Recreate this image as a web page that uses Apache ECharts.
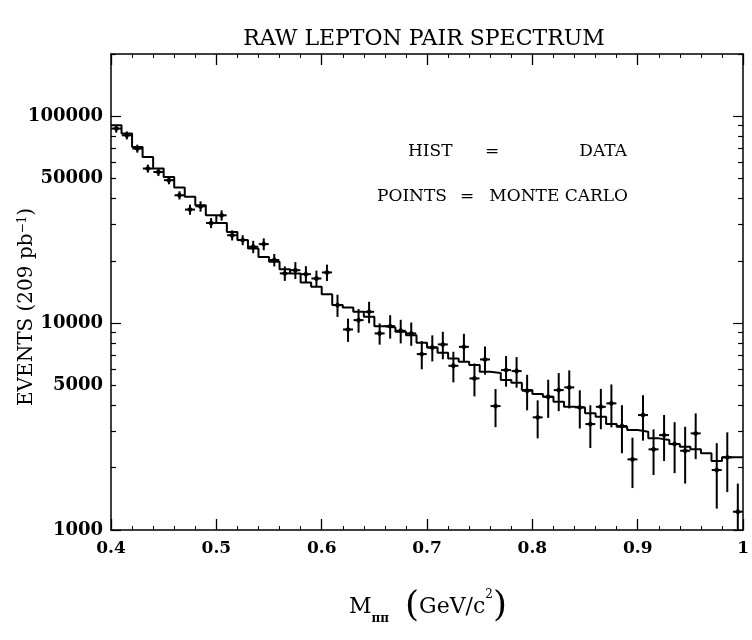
<!DOCTYPE html>
<html><head><meta charset="utf-8">
<script src="https://cdn.jsdelivr.net/npm/echarts@6/dist/echarts.min.js"></script>
<style>html,body{margin:0;padding:0;background:#fff}#c{width:752px;height:640px}</style>
</head><body><div id="c"></div>
<script>
// ---- data ----
const massCenters = [0.405,0.415,0.425,0.435,0.445,0.455,0.465,0.475,0.485,0.495,
 0.505,0.515,0.525,0.535,0.545,0.555,0.565,0.575,0.585,0.595,
 0.605,0.615,0.625,0.635,0.645,0.655,0.665,0.675,0.685,0.695,
 0.705,0.715,0.725,0.735,0.745,0.755,0.765,0.775,0.785,0.795,
 0.805,0.815,0.825,0.835,0.845,0.855,0.865,0.875,0.885,0.895,
 0.905,0.915,0.925,0.935,0.945,0.955,0.965,0.975,0.985,0.995];
const binHalfWidth = 0.005;
const dataHist = [90500,82500,71100,63600,55900,50900,45200,40800,37150,33250,
 30500,27600,25200,22950,20900,19800,18200,17400,15700,14980,
 13800,12220,11910,11340,10730,9670,9530,9080,8750,8030,
 7630,7190,6750,6500,6270,5820,5735,5305,5150,4745,
 4540,4405,4165,3940,3915,3663,3527,3251,3155,3042,
 2985,2773,2720,2603,2526,2454,2347,2154,2245,2245];
const mcValues = [87200,80900,69800,55900,53800,49100,41500,35400,36700,30500,
 33200,26600,25200,23400,24100,20200,17400,18030,17250,16440,
 17580,12220,9320,10340,11340,8920,9670,9180,8920,7085,
 7630,7890,6220,7680,5405,6675,3972,5930,5865,4709,
 3504,4405,4745,4891,3915,3251,3940,4094,3180,2195,
 3594,2454,2876,2603,2416,2931,null,1949,2245,1226];
const mcErrors = [3900,3600,3100,2500,2400,2200,1900,2000,2100,1700,
 1900,1500,1400,1600,1600,1400,1400,1700,1600,1500,
 1600,1500,1200,1350,1350,1050,1250,1200,1150,1100,
 1100,1200,1050,1200,980,1040,830,1000,990,920,
 730,920,990,1020,820,760,870,960,830,600,
 890,610,720,720,740,730,null,680,720,450];
const xMin = 0.4, xMax = 1.0, xInterval = 0.1;
const yMin = 1000, yMax = 200000;
const yMajorTicks = [1000,10000,100000];
const yMinorTicks = [2000,3000,4000,5000,6000,7000,8000,9000,
 20000,30000,40000,50000,60000,70000,80000,90000,200000];
const yTickLabels = [1000,5000,10000,50000,100000];
const titleText = 'RAW LEPTON PAIR SPECTRUM';

// ---- build ----
const histLine = massCenters.map((m,i)=>[m-binHalfWidth, dataHist[i]]);
histLine.push([massCenters[massCenters.length-1]+binHalfWidth, dataHist[dataHist.length-1]]);
const mcData = [];
massCenters.forEach((m,i)=>{ if(mcValues[i]!=null) mcData.push([m, mcValues[i], mcErrors[i]]); });

const FONT = 'DejaVu Serif';
const lblStyle = {color:'#000', fontFamily:FONT, fontWeight:'bold', fontSize:17};
function xAxisDef(pos, showLabel){
  return {type:'value', position:pos, min:xMin, max:xMax, interval:xInterval,
    axisLine:{show:true, lineStyle:{color:'#000', width:1.5}},
    axisTick:{show:true, inside:true, length:11, lineStyle:{color:'#000', width:1.3}},
    minorTick:{show:true, splitNumber:5, length:4, lineStyle:{color:'#000', width:1}},
    splitLine:{show:false}, minorSplitLine:{show:false},
    axisLabel:Object.assign({show:showLabel, margin:10,
      formatter:v=> (Math.abs(v-1)<1e-9 ? '1' : v.toFixed(1))}, lblStyle)};
}
function yAxisDef(pos, ticks, len, showLine, labels){
  return {type:'log', logBase:10, position:pos, min:yMin, max:yMax,
    axisLine:{show:showLine, lineStyle:{color:'#000', width:1.5}},
    axisTick:{show:true, inside:true, length:len, customValues:ticks, lineStyle:{color:'#000', width:1.2}},
    splitLine:{show:false},
    axisLabel: labels ? Object.assign({show:true, margin:8, customValues:labels,
      formatter:v=>String(Math.round(v))}, lblStyle, {fontSize:18}) : {show:false}};
}

const chart = echarts.init(document.getElementById('c'), null, {renderer:'canvas'});
chart.setOption({
  backgroundColor:'#fff',
  animation:false,
  grid:{left:111, right:4, top:54, bottom:110, containLabel:false},
  xAxis:[xAxisDef('bottom', true), xAxisDef('top', false)],
  yAxis:[yAxisDef('left', yMajorTicks, 10, true, yTickLabels),
         yAxisDef('left', yMinorTicks, 5, false, null),
         yAxisDef('right', yMajorTicks, 10, true, null),
         yAxisDef('right', yMinorTicks, 5, false, null)],
  series:[
    {type:'line', step:'end', data:histLine, xAxisIndex:0, yAxisIndex:0,
     symbol:'none', lineStyle:{color:'#000', width:2}, z:3},
    {type:'custom', xAxisIndex:0, yAxisIndex:0, data:mcData, clip:true, z:4,
     encode:{x:0, y:1},
     renderItem:function(params, api){
       const x = api.value(0), v = api.value(1), e = api.value(2);
       const p = api.coord([x, v]);
       const hi = api.coord([x, v+e]);
       const lo = api.coord([x, Math.max(v-e, yMin)]);
       const s = 3.2;
       return {type:'group', children:[
         {type:'line', shape:{x1:p[0], y1:hi[1], x2:p[0], y2:lo[1]}, style:{stroke:'#000', lineWidth:2}},
         {type:'line', shape:{x1:p[0]-5, y1:p[1], x2:p[0]+5, y2:p[1]}, style:{stroke:'#000', lineWidth:2}},
         {type:'polygon', shape:{points:[[p[0],p[1]-s],[p[0]+s,p[1]],[p[0],p[1]+s],[p[0]-s,p[1]]]}, style:{fill:'#000'}}
       ]};
     }}
  ],
  graphic:[
    {type:'text', x:424, y:39, style:{text:titleText, fontFamily:FONT, fontSize:22, fill:'#000', align:'center', verticalAlign:'middle'}},
    {type:'text', x:408, y:152, style:{text:'HIST', fontFamily:FONT, fontSize:17, fill:'#000', align:'left', verticalAlign:'middle'}},
    {type:'text', x:492, y:152, style:{text:'=', fontFamily:FONT, fontSize:17, fill:'#000', align:'center', verticalAlign:'middle'}},
    {type:'text', x:627, y:152, style:{text:'DATA', fontFamily:FONT, fontSize:17, fill:'#000', align:'right', verticalAlign:'middle'}},
    {type:'text', x:377, y:197, style:{text:'POINTS', fontFamily:FONT, fontSize:17, fill:'#000', align:'left', verticalAlign:'middle'}},
    {type:'text', x:467, y:197, style:{text:'=', fontFamily:FONT, fontSize:17, fill:'#000', align:'center', verticalAlign:'middle'}},
    {type:'text', x:628, y:197, style:{text:'MONTE CARLO', fontFamily:FONT, fontSize:17, fill:'#000', align:'right', verticalAlign:'middle'}},
    {type:'text', x:27, y:307, rotation:Math.PI/2, style:{
      text:'{t|EVENTS (209 pb}{sup|−1}{t|)}', align:'center', verticalAlign:'middle',
      rich:{t:{fontFamily:FONT, fontSize:20, fill:'#000', verticalAlign:'bottom'},
            sup:{fontFamily:FONT, fontSize:12, fill:'#000', verticalAlign:'top'}}}},
    {type:'text', x:428, y:607, style:{
      text:'{m|M}{s|ππ}{sp| }{p|(}{t|GeV/c}{sup|2}{p|)}', align:'center', verticalAlign:'middle',
      rich:{m:{fontFamily:FONT, fontSize:22, fill:'#000', verticalAlign:'middle'},
            s:{fontFamily:FONT, fontSize:12, fontWeight:'bold', fill:'#000', verticalAlign:'bottom'},
            sp:{fontFamily:FONT, fontSize:20, fill:'#000', width:16},
            p:{fontFamily:FONT, fontSize:36, fill:'#000', verticalAlign:'middle'},
            t:{fontFamily:FONT, fontSize:22, fill:'#000', verticalAlign:'middle'},
            sup:{fontFamily:FONT, fontSize:12, fill:'#000', verticalAlign:'top'}}}}
  ]
});
</script>
</body></html>
